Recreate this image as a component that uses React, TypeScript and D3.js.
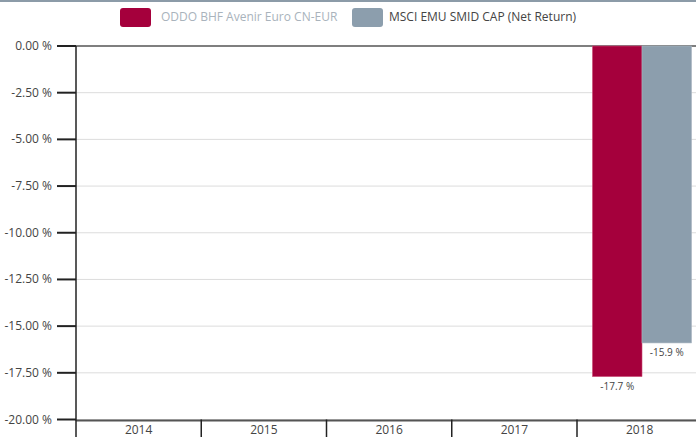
import React from "react";
import * as d3 from "d3";

const categories = ["2014", "2015", "2016", "2017", "2018"];
const seriesNames = ["ODDO BHF Avenir Euro CN-EUR", "MSCI EMU SMID CAP (Net Return)"];
const fundValues: (number | null)[] = [null, null, null, null, -17.7];
const indexValues: (number | null)[] = [null, null, null, null, -15.9];
const yTicks = [0, -2.5, -5, -7.5, -10, -12.5, -15, -17.5, -20];

const W = 696;
const H = 437;
const colors = ["#a5003c", "#8c9ead"];
const font = "'Open Sans', sans-serif";

export default function App() {
  const left = 76;
  const x = d3.scaleBand<string>().domain(categories).range([left, left + 5 * 125.25]).paddingInner(0).paddingOuter(0);
  const y = d3.scaleLinear().domain([0, -20]).range([46, 419.5]);
  const inner = d3.scaleBand<string>().domain(["0", "1"]).range([15.5, 114.5]).paddingInner(0).paddingOuter(0);
  const series = [fundValues, indexValues];
  const fix = (s: string) => s.replace("\u2212", "-");
  const fmt = (v: number) => fix(d3.format(".2f")(v)) + " %";

  return (
    <svg width={W} height={H} style={{ position: "absolute", left: 0, top: 0, background: "#fff" }}>
      <rect x={0} y={0} width={W} height={2} fill="#8c9ba8" />
      {/* legend */}
      <rect x={120} y={8} width={31} height={19} rx={3} fill={colors[0]} />
      <text x={161} y={21} fontFamily={font} fontSize={12} fill="#a9b3bc">{seriesNames[0]}</text>
      <rect x={352} y={8} width={31} height={19} rx={3} fill={colors[1]} />
      <text x={389} y={21} fontFamily={font} fontSize={12} fill="#444">{seriesNames[1]}</text>
      {/* gridlines */}
      {yTicks.map((t) => (
        <line key={"g" + t} x1={left} x2={W} y1={y(t)} y2={y(t)} stroke={t === 0 ? "#555" : "#dcdcdc"} strokeWidth={t === 0 ? 1.5 : 1} />
      ))}
      {/* bars */}
      {categories.map((c, i) =>
        series.map((s, k) => {
          const v = s[i];
          if (v == null) return null;
          const bx = (x(c) as number) + (inner(String(k)) as number);
          return (
            <g key={c + k}>
              <rect x={bx} y={y(0)} width={inner.bandwidth()} height={y(v) - y(0)} fill={colors[k]} stroke={k === 0 ? "#c84a74" : "#a8b5c0"} strokeWidth={0.6} />
              <text x={bx + inner.bandwidth() / 2} y={y(v) + 13} textAnchor="middle" fontFamily={font} fontSize={10} fill="#444">
                {fix(d3.format(".1f")(v)) + " %"}
              </text>
            </g>
          );
        })
      )}
      {/* y axis */}
      <line x1={left} x2={left} y1={y(0)} y2={y(-20) + 1} stroke="#222" strokeWidth={1.5} />
      {yTicks.map((t) => (
        <g key={"t" + t}>
          <line x1={57} x2={left} y1={y(t)} y2={y(t)} stroke="#222" strokeWidth={2} />
          <text x={52} y={y(t) + 4} textAnchor="end" fontFamily={font} fontSize={12} fill="#444">{fmt(t)}</text>
        </g>
      ))}
      {/* x axis */}
      <line x1={left} x2={W} y1={y(-20) + 1} y2={y(-20) + 1} stroke="#555" strokeWidth={2} />
      {categories.map((c) => (
        <g key={"x" + c}>
          <line x1={x(c) as number} x2={x(c) as number} y1={y(-20)} y2={H} stroke="#222" strokeWidth={1.5} />
          <text x={(x(c) as number) + x.bandwidth() / 2} y={434} textAnchor="middle" fontFamily={font} fontSize={12} fill="#444">{c}</text>
        </g>
      ))}
    </svg>
  );
}
